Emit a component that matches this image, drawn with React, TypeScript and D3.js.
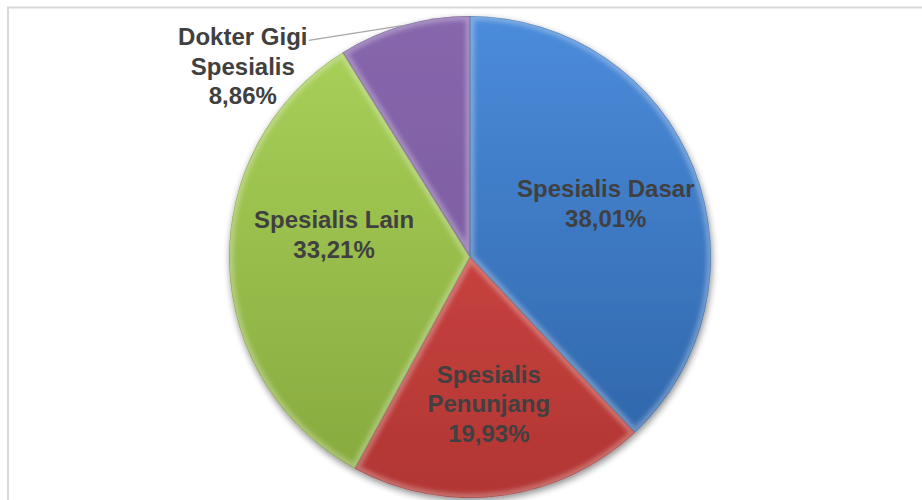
import React from "react";
import * as d3 from "d3";

const categories = ["Spesialis Dasar", "Spesialis Penunjang", "Spesialis Lain", "Dokter Gigi Spesialis"];
const values = [38.01, 19.93, 33.21, 8.86];
const labelLines = [["Spesialis Dasar"], ["Spesialis", "Penunjang"], ["Spesialis Lain"], ["Dokter Gigi", "Spesialis"]];
const topColors = ["#4b8cdb", "#db4c49", "#aad25a", "#8766ad"];
const bottomColors = ["#2d62a5", "#b13633", "#86a83d", "#775799"];

const W = 922;
const H = 500;
const cx = 470;
const cy = 257;
const R = 241;
const fontSize = 24;
const lineH = 29.5;

export default function App() {
  const pie = d3.pie<number>().sort(null).value((d) => d);
  const arcs = pie(values);
  const arc = d3.arc<d3.PieArcDatum<number>>().innerRadius(0).outerRadius(R);
  const fmt = (v: number) => v.toFixed(2).replace(".", ",") + "%";

  const labelRadius = [146, 148, 146, R];
  const nudges: [number, number][] = [[0, 0], [0, 0], [10, -27], [-161, 41]];

  const labels = arcs.map((a, i) => {
    const mid = (a.startAngle + a.endAngle) / 2;
    const ax = labelRadius[i] * Math.sin(mid);
    const ay = -labelRadius[i] * Math.cos(mid);
    const lines = [...labelLines[i], fmt(values[i])];
    return { ax, ay, x: ax + nudges[i][0], y: ay + nudges[i][1], lines, outside: i === 3 };
  });

  return (
    <div style={{ position: "absolute", left: 0, top: 0 }}>
      <svg width={W} height={H} style={{ display: "block" }}>
        <defs>
          {arcs.map((a, i) => (
            <linearGradient key={i} id={`g${i}`} gradientUnits="userSpaceOnUse" x1={0} y1={-R} x2={0} y2={R}>
              <stop offset="0%" stopColor={topColors[i]} />
              <stop offset="100%" stopColor={bottomColors[i]} />
            </linearGradient>
          ))}
          {arcs.map((a, i) => (
            <clipPath key={i} id={`c${i}`}>
              <path d={arc(a) || ""} />
            </clipPath>
          ))}
          <filter id="shadow" x="-20%" y="-20%" width="140%" height="140%">
            <feGaussianBlur in="SourceAlpha" stdDeviation="3.5" />
            <feOffset dx="1" dy="3" result="b" />
            <feComponentTransfer>
              <feFuncA type="linear" slope="0.45" />
            </feComponentTransfer>
            <feMerge>
              <feMergeNode />
              <feMergeNode in="SourceGraphic" />
            </feMerge>
          </filter>
          <filter id="blur" x="-10%" y="-10%" width="120%" height="120%">
            <feGaussianBlur stdDeviation="2" />
          </filter>
        </defs>
        <rect width={W} height={H} fill="#ffffff" />
        <rect x={8} y={7.5} width={W + 20} height={H + 20} fill="none" stroke="#d9d9d9" strokeWidth={2} />
        <g transform={`translate(${cx},${cy})`}>
          <g filter="url(#shadow)">
            {arcs.map((a, i) => (
              <path key={i} d={arc(a) || ""} fill={`url(#g${i})`} />
            ))}
          </g>
          {arcs.map((a, i) => (
            <g key={i} clipPath={`url(#c${i})`}>
              <path d={arc(a) || ""} fill="none" stroke="#ffffff" strokeOpacity={0.28} strokeWidth={9} filter="url(#blur)" />
              <path d={arc(a) || ""} fill="none" stroke="#000000" strokeOpacity={0.18} strokeWidth={1.5} />
            </g>
          ))}
          {labels.map((l, i) => (
            <g key={i}>
              {l.outside && (
                <line x1={l.x + 66} y1={l.y - 26} x2={l.ax} y2={l.ay} stroke="#a6a6a6" strokeWidth={1.3} />
              )}
              <text
                textAnchor="middle"
                fontFamily="'Liberation Sans', Arial, sans-serif"
                fontWeight="bold"
                fontSize={fontSize}
                fill="#404040"
              >
                {l.lines.map((t, j) => (
                  <tspan key={j} x={l.x} y={l.y - ((l.lines.length - 1) * lineH) / 2 + j * lineH + 8.6}>
                    {t}
                  </tspan>
                ))}
              </text>
            </g>
          ))}
        </g>
      </svg>
    </div>
  );
}
